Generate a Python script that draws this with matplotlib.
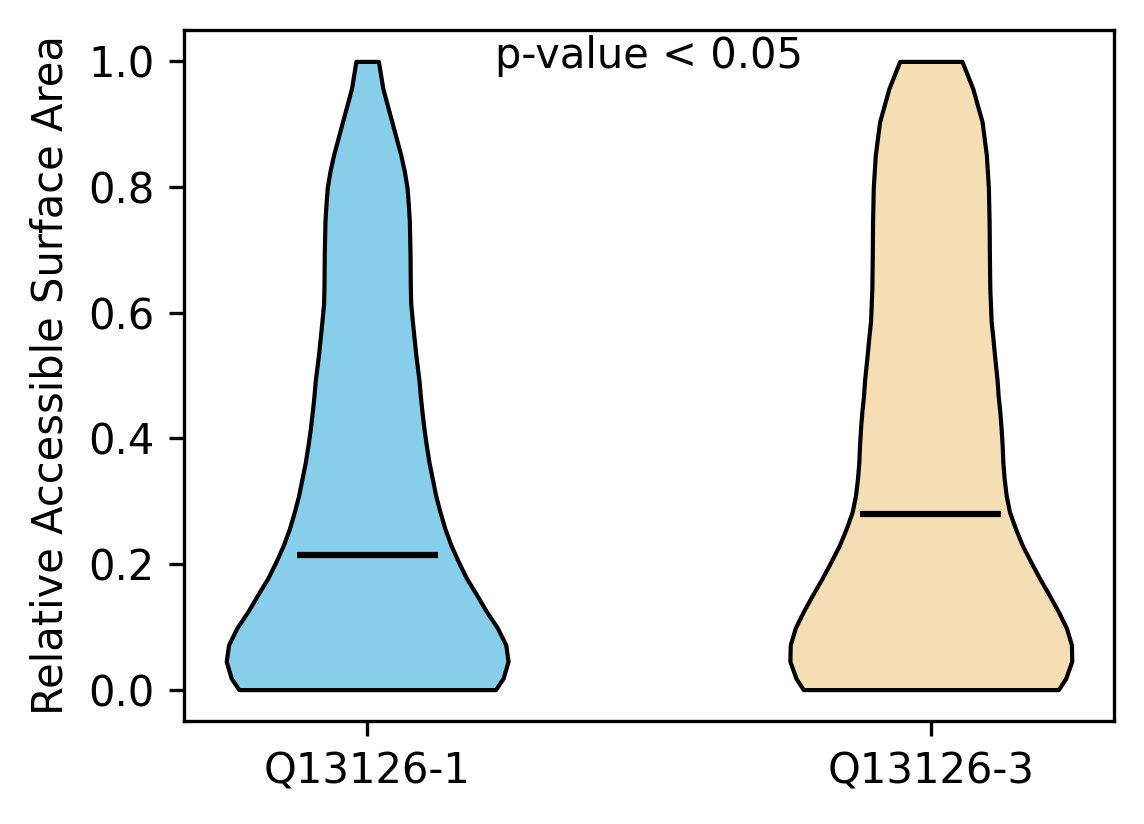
import numpy as np
import matplotlib
matplotlib.use("Agg")
import matplotlib.pyplot as plt

# ── data ──────────────────────────────────────────────────────────────────────
labels = ["Q13126-1", "Q13126-3"]
colors = ["skyblue", "wheat"]

# density profile: RSA value -> relative half-width of the violin
q1_rsa  = [0.0, 0.018, 0.045, 0.071, 0.098, 0.124, 0.151, 0.177, 0.204, 0.23,
           0.256, 0.283, 0.309, 0.336, 0.362, 0.389, 0.415, 0.442, 0.468, 0.492,
           0.534, 0.587, 0.614, 0.64, 0.693, 0.746, 0.772, 0.799, 0.825, 0.851,
           0.904, 0.957, 1.0]
q1_dens = [128.7, 136.3, 141.3, 139, 130.7, 119.7, 109.7, 99.7, 91.3, 84,
           78, 73, 68.7, 65.3, 62, 59.3, 57, 55, 53.3, 52,
           48.7, 45.3, 43.7, 43.3, 43, 42.3, 41.3, 40, 37.3, 33.7,
           24.7, 15.7, 11.3]

q3_rsa  = [0.0, 0.018, 0.045, 0.071, 0.098, 0.124, 0.151, 0.177, 0.204, 0.23,
           0.256, 0.283, 0.309, 0.336, 0.362, 0.389, 0.415, 0.442, 0.468, 0.492,
           0.534, 0.561, 0.587, 0.64, 0.693, 0.746, 0.799, 0.851, 0.904, 0.957,
           1.0]
q3_dens = [127, 134.3, 140.3, 140, 135, 127, 117.7, 108.3, 99.3, 91,
           84.3, 78.3, 75, 73, 71.7, 71, 70, 68.7, 67, 66,
           63.3, 61.7, 60, 58.7, 58.3, 58, 57.3, 55.3, 51, 41.7,
           31]

medians = [0.215, 0.28]
p_text = "p-value < 0.05"


def make_stats(coords, vals, med):
    return {"coords": np.array(coords), "vals": np.array(vals, dtype=float),
            "mean": med, "median": med, "min": min(coords), "max": max(coords)}


fig = plt.figure(figsize=(1144 / 300, 824 / 300), dpi=300)
ax = fig.add_axes([0.1608, 0.125, 0.9738 - 0.1608, 0.9636 - 0.125])

stats = [make_stats(q1_rsa, q1_dens, medians[0]),
         make_stats(q3_rsa, q3_dens, medians[1])]
parts = ax.violin(stats, positions=[1, 2], widths=0.5,
                  showmeans=False, showextrema=False, showmedians=True)

for body, c in zip(parts["bodies"], colors):
    body.set_facecolor(c)
    body.set_edgecolor("black")
    body.set_linewidth(1.0)
    body.set_alpha(1)
parts["cmedians"].set_color("black")
parts["cmedians"].set_linewidth(1.5)

ax.set_xticks([1, 2])
ax.set_xticklabels(labels)
ax.set_ylabel("Relative Accessible Surface Area")
ax.set_xlim(0.675, 2.325)
ax.set_ylim(-0.05, 1.05)
ax.text(0.5, 0.945, p_text, transform=ax.transAxes, ha="center", fontsize=10)

fig.savefig("out.png", dpi=300)
